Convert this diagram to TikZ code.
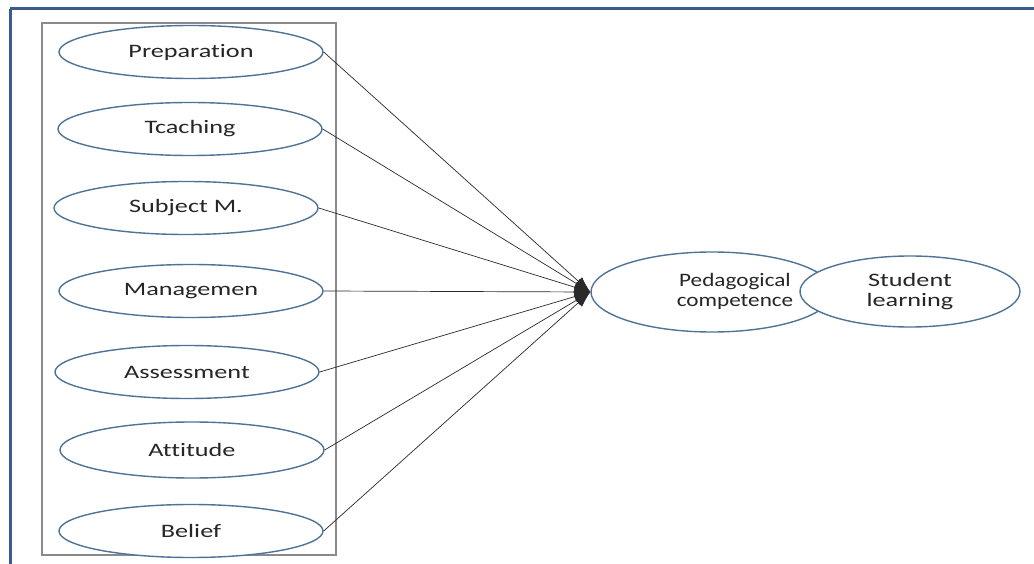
\documentclass[tikz,border=0pt]{standalone}
\usepackage{fontspec}
\setmainfont{Carlito}[FakeStretch=1.38, Ligatures={NoCommon}]
\newfontfamily\pedfont{Carlito}[FakeStretch=1.22, Ligatures={NoCommon}]
\usetikzlibrary{shapes.geometric,arrows.meta}
\definecolor{framebl}{HTML}{3B5B8E}
\definecolor{ellbl}{HTML}{4F7394}
\definecolor{boxgr}{HTML}{8A8A8A}
\definecolor{linegr}{HTML}{2A2A2A}
\tikzset{
  factor/.style={ellipse, draw=ellbl, line width=1.4pt, fill=white,
    minimum width=264pt, minimum height=53pt, inner sep=0pt,
    font=\fontsize{19}{20}\selectfont, text=black!85},
  big/.style={ellipse, draw=ellbl, line width=1.4pt, fill=white, inner sep=0pt},
  txt/.style={align=center, inner sep=0pt, font=\fontsize{19}{20}\selectfont, text=black!85},
  link/.style={draw=linegr, line width=0.7pt, -{Latex[length=16pt,width=11pt]}}
}
\begin{document}
\begin{tikzpicture}[x=1pt,y=-1pt]
\useasboundingbox (0,0) rectangle (1034,564);
\fill[white] (0,0) rectangle (1034,564);
% outer frame (cut by the page at right and bottom)
\draw[framebl, line width=3pt] (10,9) -- (1040,9);
\draw[framebl, line width=3pt] (10,9) -- (10,570);
% grey container
\draw[boxgr, line width=1.4pt] (42,23) rectangle (336,555);
% factors
\node[factor] (prep) at (191,52) {Preparation};
\node[factor] (teach) at (190,129) {Tcaching};
\node[factor] (subj) at (186,208) {Subject M.};
\node[factor] (mgmt) at (191,291) {Managemen};
\node[factor] (assess) at (187,372) {Assessment};
\node[factor, minimum height=56pt] (att) at (192,450) {Attitude};
\node[factor] (bel) at (191,531) {Belief};
% outcome ellipses
\node[big, minimum width=242pt, minimum height=80pt] (ped) at (712,292) {};
\node[txt, font=\fontsize{19}{20}\pedfont] (pedtext) at (735,291) {Pedagogical\\competence};
\node[big, minimum width=220pt, minimum height=71pt, txt, draw=ellbl, line width=1.4pt, fill=white] (stud) at (910,291.5) {Student\\learning};
% connectors
\foreach \n in {prep,teach,subj,mgmt,assess,att,bel}
  \draw[link] (\n.east) -- (ped.west);
\end{tikzpicture}
\end{document}
